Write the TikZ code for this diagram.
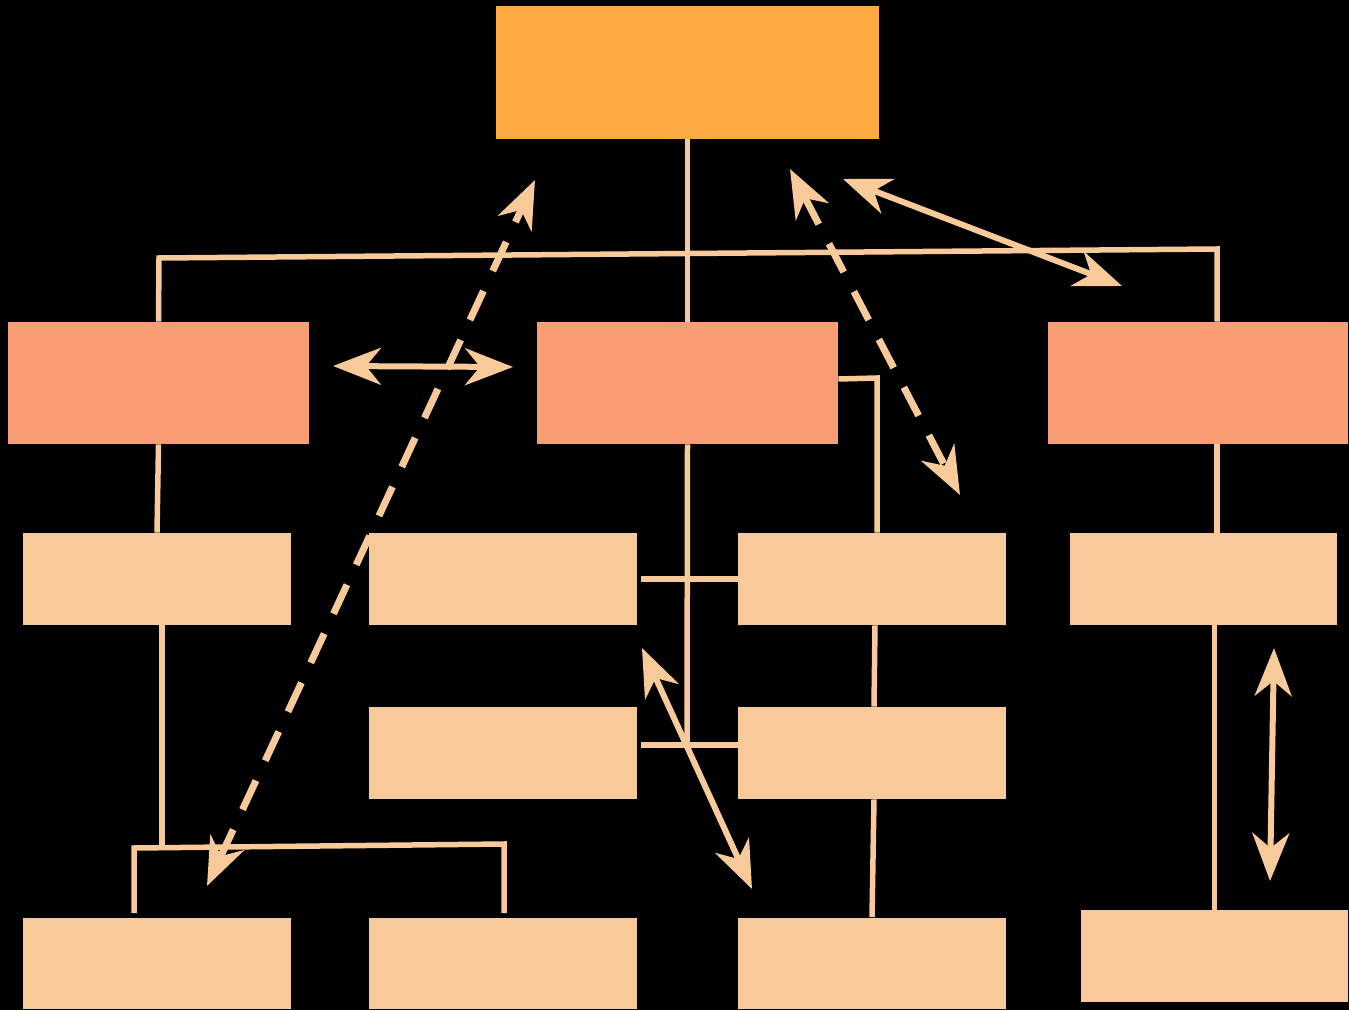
\documentclass[tikz,border=0pt]{standalone}
\usepackage{xcolor}
\usepackage{tikz}
\usetikzlibrary{arrows.meta}
\definecolor{rootorange}{RGB}{255,170,66}
\definecolor{midsalmon}{RGB}{249,157,116}
\definecolor{leafpeach}{RGB}{248,202,154}

\begin{document}
\begin{tikzpicture}[x=0.02cm, y=-0.02cm,
  topbox/.style={rectangle, fill=rootorange, inner sep=0pt, minimum width=7.66cm, minimum height=2.66cm},
  midbox/.style={rectangle, fill=midsalmon, inner sep=0pt, minimum width=6.02cm, minimum height=2.44cm},
  leafbox/.style={rectangle, fill=leafpeach, inner sep=0pt, minimum width=5.36cm, minimum height=1.84cm},
  link/.style={draw=leafpeach, line width=0.11cm},
  dblarrow/.style={draw=leafpeach, line width=0.12cm, {Stealth[length=0.96cm,width=0.74cm,inset=0.3cm]}-{Stealth[length=0.96cm,width=0.74cm,inset=0.3cm]}},
  dasharrow/.style={dblarrow, line width=0.14cm, dash pattern=on 0.64cm off 0.44cm}]
\fill[black] (0,0) rectangle (1349,1010);
\useasboundingbox (0,0) rectangle (1349,1010);

% boxes
\node[topbox] (root) at (687.5,72.5) {};
\node[midbox] (lft) at (158.5,383) {};
\node[midbox] (mid) at (687.5,383) {};
\node[midbox] (rgt) at (1198,383) {};
\node[leafbox] (la) at (157,579) {};
\node[leafbox] (lb) at (503,579) {};
\node[leafbox] (lc) at (872,579) {};
\node[leafbox] (ld) at (1203.5,579) {};
\node[leafbox] (le) at (503,753) {};
\node[leafbox] (lf) at (872,753) {};
\node[leafbox] (lg) at (157,963.5) {};
\node[leafbox] (lh) at (503,963.5) {};
\node[leafbox] (li) at (872,963.5) {};
\node[leafbox] (lj) at (1214.5,956) {};

% tree lines
\coordinate (barL) at (159,258);
\coordinate (barR) at (1217,249);
\coordinate (midEnd) at (687,742);
\coordinate (cTop) at (877,378);
\coordinate (gL) at (134,848);
\coordinate (gR) at (504,844);
\draw[link] (root) -- (mid);
\draw[link] (lft.north) -- (barL) -- (barR) -- (barR |- rgt.north);
\draw[link] (lft.south) -- (la.north);
\draw[link] ([xshift=0.1cm]la.south) -- ([xshift=0.1cm]la.south |- gL);
\draw[link] ([yshift=0.08cm]gL |- lg.north) -- (gL) -- (gR) -- ([yshift=0.08cm]gR |- lh.north);
\draw[link] (mid.south) -- (midEnd);
\draw[link] ([xshift=0.08cm]lb.east) -- (lc.west);
\draw[link] ([xshift=0.08cm,yshift=0.16cm]le.east) -- ([yshift=0.16cm]lf.west);
\draw[link] ([yshift=0.08cm]mid.east) -- (cTop) -- (cTop |- lc.north);
\draw[link] ([xshift=0.06cm]lc.south) -- ([xshift=0.04cm]lf.north);
\draw[link] ([xshift=0.04cm]lf.south) -- (li.north);
\draw[link] (barR |- rgt.south) -- (barR |- ld.north);
\draw[link] (lj.north |- ld.south) -- (lj.north);

% arrows
\coordinate (h1) at (333,366);
\coordinate (h2) at (513,367);
\coordinate (d1) at (207,886);
\coordinate (d2) at (535,180);
\coordinate (d3) at (790,169);
\coordinate (d4) at (960,495);
\coordinate (s1) at (843,179);
\coordinate (s2) at (1122,286);
\coordinate (s3) at (642,648);
\coordinate (s4) at (752,889);
\coordinate (v1) at (1274,648);
\coordinate (v2) at (1270,881);
\draw[dblarrow] (h1) -- (h2);
\draw[dasharrow] (d1) -- (d2);
\draw[dasharrow] (d3) -- (d4);
\draw[dblarrow] (s1) -- (s2);
\draw[dblarrow] (s3) -- (s4);
\draw[dblarrow] (v1) -- (v2);
\end{tikzpicture}
\end{document}
